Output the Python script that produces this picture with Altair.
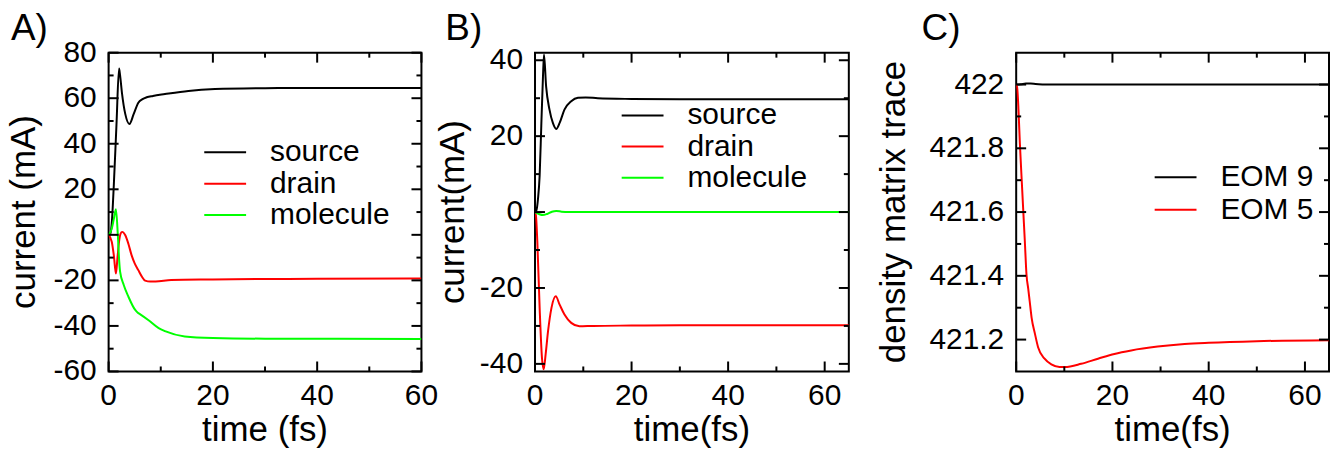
import altair as alt
import pandas as pd

FONT = "Liberation Sans"

# ---------------- Panel A data ----------------
A_names = ["source", "drain", "molecule"]
A_colors = ["#000000", "#ff0000", "#00ff00"]
tA_source = [0, 0.3, 0.6, 1.0, 1.5, 2.0, 2.2, 2.55, 3.2, 4.0, 4.8, 5.7, 6.5, 7.3, 8.5, 10.8, 15.3, 20.4, 30, 40, 60]
vA_source = [0, 0, 5, 22, 48, 73, 70, 62.5, 53, 48.7, 53, 58, 59.6, 60.4, 61, 61.8, 63.2, 64, 64.4, 64.5, 64.5]
tA_drain = [0, 0.6, 1.0, 1.4, 1.7, 2.0, 2.3, 2.6, 3.2, 3.8, 4.4, 5.0, 5.7, 6.4, 7.0, 8.0, 9.0, 12, 20, 30, 40, 60]
vA_drain = [0, -3, -9, -17, -10, -3, 0.5, 1.3, -0.2, -4, -8.9, -12.5, -15.5, -18.4, -20.1, -20.5, -20.5, -19.8, -19.6, -19.4, -19.3, -19.2]
tA_molecule = [0, 0.6, 1.0, 1.4, 1.77, 2.04, 2.2, 2.9, 3.8, 5.1, 5.6, 6.0, 7.6, 9.6, 10.8, 14.6, 20, 30, 60]
vA_molecule = [0, 2.7, 7, 11.2, -0.2, -11.9, -16.2, -22, -27.2, -33, -34.2, -34.8, -37.4, -41.0, -42.3, -44.6, -45.3, -45.6, -45.7]

# ---------------- Panel B data ----------------
B_names = ["source", "drain", "molecule"]
B_colors = ["#000000", "#ff0000", "#00ff00"]
tB_source = [0, 0.3, 0.62, 0.96, 1.3, 1.65, 1.86, 2.3, 3.0, 3.7, 4.4, 5.1, 6.1, 7.5, 8.9, 10.5, 13, 20, 30, 65]
vB_source = [0, 0.5, 3.5, 9.6, 22.7, 35.7, 41.5, 33.1, 27, 23.5, 21.9, 23.5, 27, 29.2, 30.1, 30.2, 30, 29.8, 29.7, 29.7]
tB_drain = [0, 0.2, 0.48, 0.96, 1.44, 1.8, 2.2, 2.7, 3.4, 4.3, 5.1, 6.1, 7.5, 9.2, 12, 20, 30, 65]
vB_drain = [0, -1, -7.8, -25.3, -38.4, -41.4, -37.5, -31.4, -25.3, -22.2, -24.4, -27, -29.2, -30.1, -30, -29.9, -29.8, -29.8]
tB_molecule = [0, 0.8, 1.6, 2.5, 3.5, 4.4, 5.5, 7, 65]
vB_molecule = [0, -0.5, -0.8, -0.5, 0.1, 0.3, 0.1, 0, 0]

# ---------------- Panel C data ----------------
C_names = ["EOM 9", "EOM 5"]
C_colors = ["#000000", "#ff0000"]
tC_eom9 = [0, 1, 2, 3, 4, 6, 10, 20, 65]
vC_eom9 = [422, 422.001, 422.003, 422.003, 422.002, 422, 422, 422, 422]
tC_eom5 = [0, 0.2, 0.48, 0.76, 1.1, 1.45, 1.8, 2.14, 2.5, 2.8, 3.2, 3.9, 4.55, 5.9, 7.3, 9.0, 10.1,
           13.5, 17, 20.4, 23.9, 29.4, 35, 40, 50, 65]
vC_eom5 = [422, 421.99, 421.92, 421.817, 421.714, 421.61, 421.507, 421.404, 421.36, 421.321, 421.269,
           421.218, 421.176, 421.14, 421.122, 421.114, 421.114, 421.124, 421.14, 421.155, 421.166,
           421.178, 421.186, 421.19, 421.195, 421.198]

# ---------------- ticks ----------------
xA_major = [0, 20, 40, 60]
xA_minor = [10, 30, 50]
yA_major = [-60, -40, -20, 0, 20, 40, 60, 80]
yA_minor = [-50, -30, -10, 10, 30, 50, 70]
xB_major = [0, 20, 40, 60]
xB_minor = [10, 30, 50]
yB_major = [-40, -20, 0, 20, 40]
yB_minor = [-30, -10, 10, 30]
yC_major = [421.2, 421.4, 421.6, 421.8, 422]
yC_minor = [421.3, 421.5, 421.7, 421.9]

MAJ = 10
MIN = 5


def long_df(items):
    rows = []
    for name, ts, vs in items:
        for t, v in zip(ts, vs):
            rows.append({"t": t, "v": v, "series": name})
    return pd.DataFrame(rows)


def fmt(v):
    return f"{v:g}"


def panel(df, names, colors, xdom, ydom, xmaj, xmin, ymaj, ymin, xtitle, ytitle,
          ytitle_x, label, label_dx, legend, W, H=320):
    xs = alt.Scale(domain=xdom, nice=False, zero=False)
    ys = alt.Scale(domain=ydom, nice=False, zero=False)
    lines = alt.Chart(df).mark_line(strokeWidth=2, interpolate="monotone", clip=True).encode(
        x=alt.X("t:Q", scale=xs, axis=None),
        y=alt.Y("v:Q", scale=ys, axis=None),
        color=alt.Color("series:N", scale=alt.Scale(domain=names, range=colors),
                        sort=names, legend=legend),
    )
    layers = [lines]
    # inward tick marks on all four sides, placed through the scales
    for vals, ln in ((ymaj, MAJ), (ymin, MIN)):
        d = pd.DataFrame({"v": vals})
        layers.append(alt.Chart(d).mark_rule(color="black", strokeWidth=2).encode(
            y=alt.Y("v:Q", scale=ys, axis=None), x=alt.value(0), x2=alt.value(ln)))
        layers.append(alt.Chart(d).mark_rule(color="black", strokeWidth=2).encode(
            y=alt.Y("v:Q", scale=ys, axis=None), x=alt.value(W - ln), x2=alt.value(W)))
    for vals, ln in ((xmaj, MAJ), (xmin, MIN)):
        d = pd.DataFrame({"t": vals})
        layers.append(alt.Chart(d).mark_rule(color="black", strokeWidth=2).encode(
            x=alt.X("t:Q", scale=xs, axis=None), y=alt.value(H - ln), y2=alt.value(H)))
        layers.append(alt.Chart(d).mark_rule(color="black", strokeWidth=2).encode(
            x=alt.X("t:Q", scale=xs, axis=None), y=alt.value(0), y2=alt.value(ln)))
    # tick labels, positioned through the scales
    ylab = pd.DataFrame({"v": ymaj, "lab": [fmt(v) for v in ymaj]})
    layers.append(alt.Chart(ylab).mark_text(align="right", baseline="middle", font=FONT,
                                            fontSize=30, color="black", dx=-12).encode(
        y=alt.Y("v:Q", scale=ys, axis=None), x=alt.value(0), text="lab:N"))
    xlab = pd.DataFrame({"t": xmaj, "lab": [fmt(v) for v in xmaj]})
    layers.append(alt.Chart(xlab).mark_text(align="center", baseline="alphabetic", font=FONT,
                                            fontSize=30, color="black").encode(
        x=alt.X("t:Q", scale=xs, axis=None), y=alt.value(H + 34), text="lab:N"))
    # axis titles
    layers.append(alt.Chart(pd.DataFrame({"txt": [xtitle]})).mark_text(
        align="center", baseline="alphabetic", font=FONT, fontSize=35, color="black").encode(
        x=alt.value(W / 2), y=alt.value(H + 69.5), text="txt:N"))
    layers.append(alt.Chart(pd.DataFrame({"txt": [ytitle]})).mark_text(
        align="center", baseline="alphabetic", angle=270, font=FONT, fontSize=35,
        color="black").encode(x=alt.value(ytitle_x), y=alt.value(H / 2), text="txt:N"))
    # panel letter
    layers.append(alt.Chart(pd.DataFrame({"txt": [label]})).mark_text(
        align="left", baseline="alphabetic", font=FONT, fontSize=37, color="black").encode(
        x=alt.value(label_dx), y=alt.value(-13), text="txt:N"))
    return alt.layer(*layers).properties(width=W, height=H)


def make_legend(legx, legy, rowpad):
    return alt.Legend(orient="none", legendX=legx, legendY=legy, title=None,
                      symbolType="M-3,0H3", symbolSize=196, symbolStrokeWidth=2,
                      labelFont=FONT, labelFontSize=30, labelColor="black",
                      labelOffset=30, rowPadding=rowpad, padding=0, direction="vertical")


legA = make_legend(102, 85, 1.5)
legB = make_legend(93, 48, 1.3)
legC = make_legend(145, 110, 2.7)

dfA = long_df([("source", tA_source, vA_source), ("drain", tA_drain, vA_drain),
               ("molecule", tA_molecule, vA_molecule)])
dfB = long_df([("source", tB_source, vB_source), ("drain", tB_drain, vB_drain),
               ("molecule", tB_molecule, vB_molecule)])
dfC = long_df([("EOM 9", tC_eom9, vC_eom9), ("EOM 5", tC_eom5, vC_eom5)])

pA = panel(dfA, A_names, A_colors, [0, 60], [-60, 80], xA_major, xA_minor, yA_major, yA_minor,
           "time (fs)", "current (mA)", -74, "A)", -98, legA, 314)
pB = panel(dfB, B_names, B_colors, [0, 65], [-42, 42], xB_major, xB_minor, yB_major, yB_minor,
           "time(fs)", "current(mA)", -71, "B)", -90, legB, 315)
pC = panel(dfC, C_names, C_colors, [0, 65], [421.1, 422.1], xB_major, xB_minor, yC_major, yC_minor,
           "time(fs)", "density matrix trace", -112, "C)", -95, legC, 314)

inner = alt.hconcat(pA, pB, spacing=-4).resolve_scale(color="independent")
chart = alt.hconcat(inner, pC, spacing=25).resolve_scale(color="independent").properties(
    padding={"left": -2, "top": 0, "right": 0, "bottom": 0}
).configure_view(stroke="black", strokeWidth=2)

chart.save("out.html", embed_options={"renderer": "svg", "actions": False})
